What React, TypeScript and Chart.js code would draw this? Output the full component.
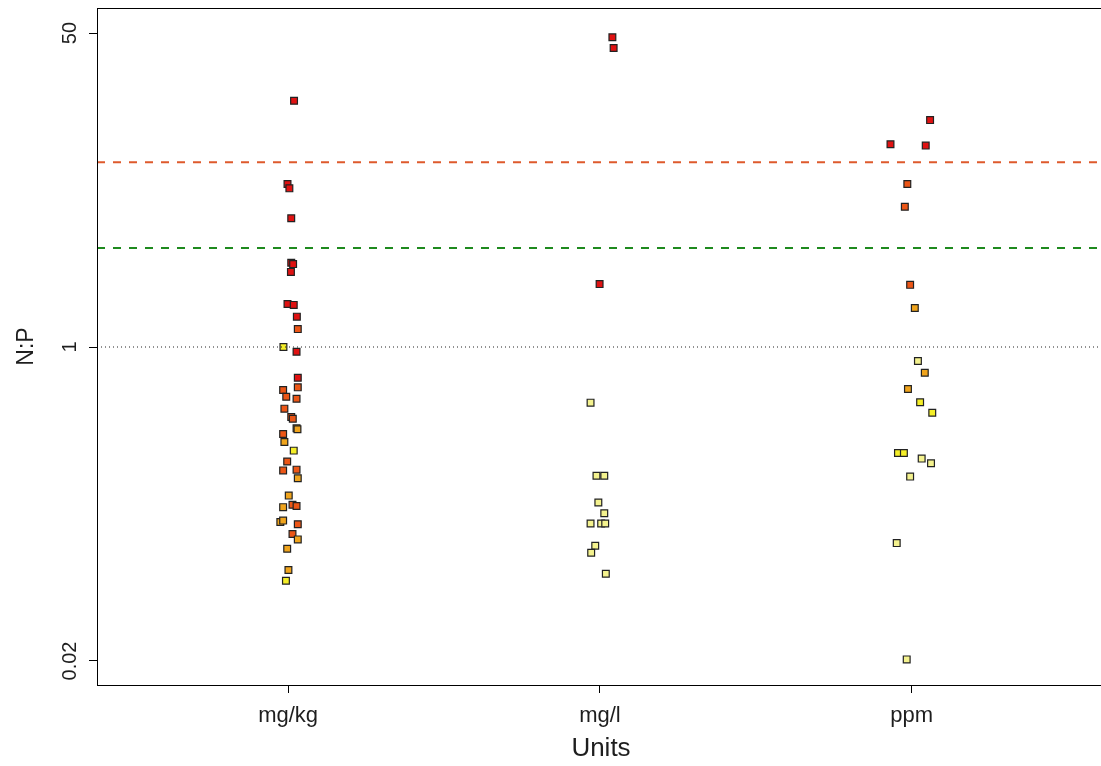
import React, { useEffect, useRef } from "react";
import { Chart, registerables } from "chart.js";

Chart.register(...registerables);

// ---------- data ----------
const CATEGORIES = ["mg/kg", "mg/l", "ppm"];

const MGKG_VALUES = [21.5, 7.62, 7.22, 4.97, 2.86, 2.81, 2.55, 1.71, 1.69, 1.46, 1.25, 1.0, 0.943, 0.682, 0.605, 0.585, 0.538, 0.525, 0.464, 0.418, 0.409, 0.363, 0.359, 0.338, 0.306, 0.275, 0.24, 0.215, 0.217, 0.195, 0.157, 0.14, 0.138, 0.136, 0.113, 0.115, 0.11, 0.0973, 0.091, 0.081, 0.0621, 0.0544];
const MGKG_JITTER = [0.019, -0.002, 0.004, 0.01, 0.01, 0.016, 0.009, -0.002, 0.018, 0.028, 0.031, -0.015, 0.027, 0.031, 0.031, -0.016, -0.006, 0.027, -0.012, 0.01, 0.015, 0.027, 0.03, -0.016, -0.012, 0.018, -0.003, -0.016, 0.027, 0.031, 0.002, 0.014, 0.027, -0.016, -0.025, -0.016, 0.031, 0.014, 0.031, -0.003, 0.001, -0.007];
const MGKG_LEVEL = [0, 0, 0, 0, 0, 0, 0, 0, 0, 0, 1, 3, 0, 0, 1, 1, 1, 1, 1, 1, 1, 2, 2, 1, 2, 3, 1, 1, 1, 2, 2, 1, 1, 2, 2, 2, 1, 1, 2, 2, 2, 3];

const MGL_VALUES = [47.4, 41.5, 2.19, 0.5, 0.201, 0.201, 0.144, 0.126, 0.111, 0.111, 0.111, 0.0841, 0.0771, 0.0593];
const MGL_JITTER = [0.04, 0.044, -0.001, -0.03, -0.011, 0.014, -0.005, 0.014, -0.03, 0.004, 0.017, -0.015, -0.028, 0.019];
const MGL_LEVEL = [0, 0, 0, 4, 4, 4, 4, 4, 4, 4, 4, 4, 4, 4];

const PPM_VALUES = [16.9, 12.5, 12.3, 7.62, 5.74, 2.17, 1.626, 0.84, 0.726, 0.593, 0.502, 0.441, 0.267, 0.267, 0.249, 0.235, 0.199, 0.0869, 0.0204];
const PPM_JITTER = [0.059, -0.068, 0.045, -0.014, -0.022, -0.005, 0.01, 0.02, 0.042, -0.012, 0.027, 0.066, -0.044, -0.025, 0.032, 0.062, -0.005, -0.048, -0.016];
const PPM_LEVEL = [0, 0, 0, 1, 1, 1, 2, 4, 2, 2, 3, 3, 3, 3, 4, 4, 4, 4, 4];

const Y_TICKS = [0.02, 1, 50];
const Y_TICK_LABELS = ["0.02", "1", "50"];

const REF_RED = 10;
const REF_GREEN = 3.43;
const REF_ONE = 1;

// ---------- styles ----------
const LEVEL_COLORS = ["#E01212", "#EC5616", "#F0A41C", "#F4EE28", "#F4F28E"];
const FONT = '"Liberation Sans", Arial, sans-serif';
const TEXT = "#1e1e1e";
const X_MIN = 0.387;
const X_MAX = 3.62;
const Y_MIN = 0.01483;
const Y_MAX = 68.3;

export default function App() {
  const ref = useRef<HTMLCanvasElement>(null);

  useEffect(() => {
    if (!ref.current) return;
    const groups = [
      { v: MGKG_VALUES, j: MGKG_JITTER, l: MGKG_LEVEL },
      { v: MGL_VALUES, j: MGL_JITTER, l: MGL_LEVEL },
      { v: PPM_VALUES, j: PPM_JITTER, l: PPM_LEVEL },
    ];
    const hline = (y: number, color: string, width: number, dash: number[]) => ({
      type: "line" as const,
      data: [
        { x: X_MIN, y },
        { x: X_MAX, y },
      ],
      showLine: true,
      borderColor: color,
      borderWidth: width,
      borderDash: dash,
      pointRadius: 0,
      fill: false,
    });

    const datasets: any[] = [
      hline(REF_ONE, "#222222", 1, [1, 3]),
      hline(REF_RED, "#DE5A2C", 2, [8, 8]),
      hline(REF_GREEN, "#1E8A1E", 2, [8, 8]),
      ...groups.map((g, gi) => ({
        type: "scatter" as const,
        data: g.v.map((y, i) => ({ x: gi + 1 + g.j[i], y })),
        pointStyle: "rect",
        pointRadius: 4.8,
        pointBorderWidth: 1.2,
        pointBorderColor: "#222222",
        pointBackgroundColor: g.l.map((k) => LEVEL_COLORS[k]),
        showLine: false,
      })),
    ];

    const boxPlugin = {
      id: "boxAndLabels",
      afterDraw(chart: any) {
        const { ctx, chartArea } = chart;
        ctx.save();
        ctx.strokeStyle = "#000";
        ctx.lineWidth = 1;
        ctx.strokeRect(
          Math.round(chartArea.left) + 0.5,
          Math.round(chartArea.top) + 0.5,
          Math.round(chartArea.right - chartArea.left),
          Math.round(chartArea.bottom - chartArea.top)
        );
        const ys = chart.scales.y;
        ctx.fillStyle = TEXT;
        ctx.font = `20px ${FONT}`;
        ctx.textAlign = "center";
        ctx.textBaseline = "alphabetic";
        Y_TICKS.forEach((v, i) => {
          const py = ys.getPixelForValue(v);
          ctx.save();
          ctx.translate(76, py);
          ctx.rotate(-Math.PI / 2);
          ctx.fillText(Y_TICK_LABELS[i], 0, 0);
          ctx.restore();
        });
        ctx.restore();
      },
    };

    const chart = new Chart(ref.current, {
      type: "scatter",
      data: { datasets },
      options: {
        responsive: false,
        animation: false,
        events: [],
        layout: { padding: { top: 8, right: 2, left: 0, bottom: 0 } },
        plugins: { legend: { display: false }, tooltip: { enabled: false } },
        scales: {
          x: {
            type: "linear",
            min: X_MIN,
            max: X_MAX,
            afterBuildTicks: (s: any) => {
              s.ticks = CATEGORIES.map((_, i) => ({ value: i + 1 }));
            },
            afterFit: (s: any) => {
              s.height = 81;
            },
            ticks: {
              autoSkip: false,
              maxRotation: 0,
              minRotation: 0,
              padding: 10,
              color: TEXT,
              font: { family: FONT, size: 22 },
              callback: (v: any) => CATEGORIES[Math.round(Number(v)) - 1] ?? "",
            },
            grid: { drawOnChartArea: false, drawTicks: true, tickLength: 8, color: "#000", lineWidth: 1 },
            border: { display: true, color: "#000", width: 1 },
            title: {
              display: true,
              text: "Units",
              color: TEXT,
              font: { family: FONT, size: 26 },
              padding: { top: 0, bottom: 2 },
            },
          },
          y: {
            type: "logarithmic",
            min: Y_MIN,
            max: Y_MAX,
            afterBuildTicks: (s: any) => {
              s.ticks = Y_TICKS.map((v) => ({ value: v }));
            },
            afterFit: (s: any) => {
              s.width = 97;
            },
            ticks: { display: false },
            grid: { drawOnChartArea: false, drawTicks: true, tickLength: 8, color: "#000", lineWidth: 1 },
            border: { display: true, color: "#000", width: 1 },
            title: {
              display: true,
              text: "N:P",
              color: TEXT,
              font: { family: FONT, size: 23 },
              padding: { top: 13, bottom: 0 },
            },
          },
        },
      },
      plugins: [boxPlugin],
    });
    return () => chart.destroy();
  }, []);

  return (
    <div
      style={{
        position: "fixed",
        left: 0,
        top: 0,
        width: 1101,
        height: 766,
        overflow: "hidden",
        background: "#fff",
      }}
    >
      <canvas ref={ref} width={1111} height={766} style={{ width: 1111, height: 766, display: "block" }} />
    </div>
  );
}
